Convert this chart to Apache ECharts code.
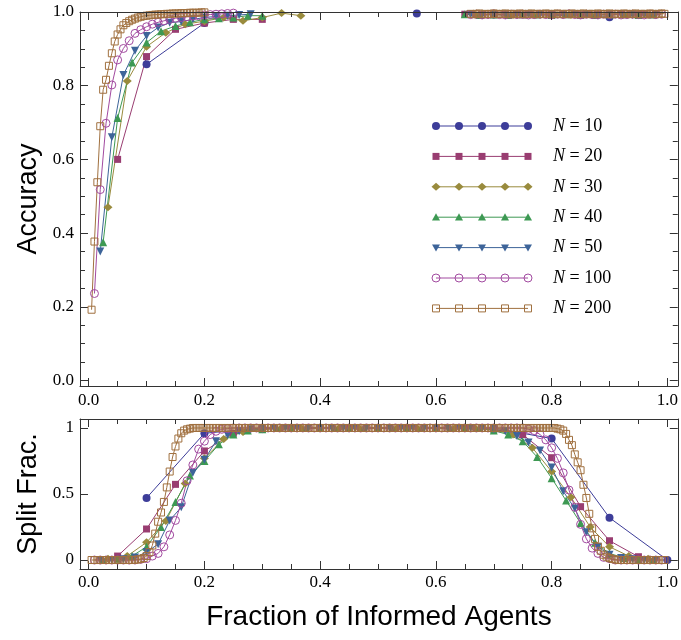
<!DOCTYPE html>
<html>
<head>
<meta charset="utf-8">
<script src="https://cdn.jsdelivr.net/npm/echarts@6/dist/echarts.min.js"></script>
<style>
  html, body { margin: 0; padding: 0; background: #fff; }
  #chart { width: 681px; height: 640px; }
</style>
</head>
<body>
<div id="chart"></div>
<script>
// group sizes N, one line per size
const sizes = [10, 20, 30, 40, 50, 100, 200];

// tick positions
const xMajor = [0, 0.2, 0.4, 0.6, 0.8, 1.0];
const xMinor = [0.05, 0.1, 0.15, 0.25, 0.3, 0.35, 0.45, 0.5, 0.55, 0.65, 0.7, 0.75, 0.85, 0.9, 0.95];
const accMajor = [0, 0.2, 0.4, 0.6, 0.8, 1.0];
const accMinor = [0.05, 0.1, 0.15, 0.25, 0.3, 0.35, 0.45, 0.5, 0.55, 0.65, 0.7, 0.75, 0.85, 0.9, 0.95];
const splitMajor = [0, 0.5, 1];

// accuracy (top panel). N=10 read with its own x; the others sit on x = k/N.
// "Left" starts at k=1, "Right" ends at k=N-1; points hidden on the top frame are left out.
const acc10X = [0.1, 0.2, 0.3, 0.567, 0.6, 0.7, 0.8, 0.9];
const acc10 = [0.858, 0.970, null, 0.996, null, 0.993, 0.992, 0.986];
const acc20Left = [0.600, 0.879, 0.953, 0.970, 0.980, 0.980];
const acc20Right = [0.994, 0.993, 0.992, 0.993, 0.991, 0.994, 0.993];
const acc30Left = [0.470, 0.813, 0.906, 0.944, 0.967, 0.975, 0.985, 0.976, 0.985, 0.997, 0.990];
const acc30Right = [0.993, 0.994, 0.992, 0.993, 0.994, 0.992, 0.993, 0.994, 0.993, 0.992];
const acc40Left = [0.375, 0.712, 0.863, 0.917, 0.948, 0.962, 0.972, 0.980, 0.983, 0.985, 0.990, 0.990];
const acc40Right = [0.994, 0.992, 0.993, 0.992, 0.994, 0.993, 0.992, 0.994, 0.993, 0.992, 0.993, 0.994, 0.992, 0.993];
const acc50Left = [0.350, 0.660, 0.829, 0.895, 0.935, 0.958, 0.971, 0.974, 0.980, 0.985, 0.988, 0.990, 0.992, 0.994];
const acc50Right = [0.993, 0.992, 0.994, 0.993, 0.992, 0.993, 0.994, 0.992, 0.993, 0.994, 0.993, 0.992, 0.993, 0.994, 0.992, 0.993, 0.994];
const acc100Left = [0.236, 0.518, 0.698, 0.802, 0.870, 0.901, 0.922, 0.942, 0.952, 0.960,
  0.967, 0.972, 0.976, 0.980, 0.983, 0.985, 0.987, 0.989, 0.990, 0.992,
  0.993, 0.994, 0.995, 0.996, 0.997];
const acc100Right = [0.993, 0.994, 0.992, 0.993, 0.995, 0.993, 0.992, 0.994, 0.993, 0.994,
  0.992, 0.993, 0.994, 0.993, 0.992, 0.994, 0.993, 0.995, 0.993, 0.992,
  0.994, 0.993, 0.992, 0.994, 0.993, 0.994, 0.992, 0.993, 0.994, 0.993,
  0.992, 0.994, 0.993, 0.994];
const acc200Left = [0.192, 0.377, 0.538, 0.690, 0.789, 0.816, 0.854, 0.888, 0.920, 0.939,
  0.953, 0.964, 0.970, 0.975, 0.979, 0.982, 0.985, 0.987, 0.989, 0.990,
  0.991, 0.992, 0.993, 0.993, 0.994, 0.994, 0.995, 0.995, 0.996, 0.996,
  0.996, 0.997, 0.997, 0.997, 0.998, 0.998, 0.998, 0.998, 0.999, 0.999];
const acc200Right = [0.995, 0.994, 0.995, 0.996, 0.994, 0.995, 0.994, 0.995, 0.996, 0.995,
  0.994, 0.995, 0.996, 0.994, 0.995, 0.995, 0.994, 0.996, 0.995, 0.994,
  0.995, 0.996, 0.994, 0.995, 0.995, 0.994, 0.996, 0.995, 0.994, 0.995,
  0.996, 0.994, 0.995, 0.995, 0.994, 0.996, 0.995, 0.994, 0.995, 0.996,
  0.994, 0.995, 0.995, 0.994, 0.996, 0.995, 0.994, 0.995, 0.996, 0.994,
  0.995, 0.995, 0.994, 0.996, 0.995, 0.994, 0.995, 0.996, 0.994, 0.995,
  0.995, 0.994, 0.996, 0.995, 0.994, 0.995, 0.996, 0.995];

// split fraction (bottom panel), x = k/N for k = 1, 2, ...
const split10 = [0.47, 0.96, 1, 1, 1, 1, 1, 0.92, 0.32, 0.0];
const split20 = [0.03, 0.235, 0.573, 0.826, 0.96, 0.99, 1, 1, 1, 1,
  1, 1, 1, 0.99, 0.95, 0.775, 0.404, 0.146, 0.025];
const split30 = [0.01, 0.03, 0.134, 0.295, 0.58, 0.77, 0.917, 0.97, 0.99, 1,
  1, 1, 1, 1, 1, 1, 1, 1, 1, 1,
  0.985, 0.95, 0.85, 0.67, 0.475, 0.25, 0.1, 0.03, 0.01];
const split40 = [0, 0.01, 0.03, 0.1, 0.25, 0.44, 0.64, 0.75, 0.876, 0.95,
  0.98, 0.99, 1, 1, 1, 1, 1, 1, 1, 1,
  1, 1, 1, 1, 1, 1, 1, 0.98, 0.95, 0.9,
  0.78, 0.62, 0.45, 0.28, 0.13, 0.05, 0.015, 0.005, 0];
const split50 = [0, 0, 0.005, 0.02, 0.06, 0.12, 0.30, 0.40, 0.66, 0.76,
  0.90, 0.947, 0.975, 0.99, 0.995, 1, 1, 1, 1, 1,
  1, 1, 1, 1, 1, 1, 1, 1, 1, 1,
  1, 1, 1, 1, 0.99, 0.975, 0.94, 0.89, 0.83, 0.70,
  0.52, 0.39, 0.21, 0.10, 0.04, 0.015, 0.005, 0, 0];
const split100 = [0, 0, 0, 0, 0, 0, 0, 0, 0.005, 0.01,
  0.03, 0.05, 0.1, 0.19, 0.3, 0.43, 0.6, 0.72, 0.84, 0.9,
  0.95, 0.975, 0.99, 0.995, 1, 1, 1, 1, 1, 1,
  1, 1, 1, 1, 1, 1, 1, 1, 1, 1,
  1, 1, 1, 1, 1, 1, 1, 1, 1, 1,
  1, 1, 1, 1, 1, 1, 1, 1, 1, 1,
  1, 1, 1, 1, 1, 1, 1, 1, 1, 1,
  1, 1, 1, 1, 1, 0.99, 0.98, 0.95, 0.91, 0.85,
  0.77, 0.66, 0.53, 0.4, 0.27, 0.16, 0.09, 0.05, 0.02, 0.01,
  0, 0, 0, 0, 0, 0, 0, 0, 0];
const split200 = [0, 0, 0, 0, 0, 0, 0, 0, 0, 0,
  0, 0, 0, 0, 0, 0.002, 0.004, 0.008, 0.015, 0.03,
  0.06, 0.11, 0.2, 0.29, 0.36, 0.44, 0.55, 0.67, 0.78, 0.86,
  0.92, 0.96, 0.98, 0.99, 0.995, 1, 1, 1, 1, 1,
  1, 1, 1, 1, 1, 1, 1, 1, 1, 1,
  1, 1, 1, 1, 1, 1, 1, 1, 1, 1,
  1, 1, 1, 1, 1, 1, 1, 1, 1, 1,
  1, 1, 1, 1, 1, 1, 1, 1, 1, 1,
  1, 1, 1, 1, 1, 1, 1, 1, 1, 1,
  1, 1, 1, 1, 1, 1, 1, 1, 1, 1,
  1, 1, 1, 1, 1, 1, 1, 1, 1, 1,
  1, 1, 1, 1, 1, 1, 1, 1, 1, 1,
  1, 1, 1, 1, 1, 1, 1, 1, 1, 1,
  1, 1, 1, 1, 1, 1, 1, 1, 1, 1,
  1, 1, 1, 1, 1, 1, 1, 1, 1, 1,
  1, 1, 1, 1, 1, 1, 1, 1, 1, 1,
  1, 0.995, 0.99, 0.98, 0.955, 0.91, 0.87, 0.8, 0.74, 0.68,
  0.57, 0.47, 0.35, 0.24, 0.16, 0.1, 0.07, 0.04, 0.025, 0.015,
  0.008, 0.004, 0, 0, 0, 0, 0, 0, 0, 0,
  0, 0, 0, 0, 0, 0, 0, 0, 0];

// marker look per series (Mathematica default palette)
const styles = [
  { color: '#3D3D99', symbol: 'circle', size: 8 },
  { color: '#993D71', symbol: 'rect', size: 7 },
  { color: '#998B3D', symbol: 'diamond', size: 9 },
  { color: '#3D9953', symbol: 'triangle', size: 8 },
  { color: '#3D6499', symbol: 'triangle', size: 8, rotate: 180 },
  { color: '#A24AA0', symbol: 'circle', size: 8, hollow: true },
  { color: '#A0703F', symbol: 'rect', size: 7, hollow: true }
];

const X_MIN = -0.015, X_MAX = 1.018;
const frameColor = '#333';
const tickFont = { fontFamily: 'Liberation Serif', fontSize: 17, color: '#000' };
const titleFont = { fontFamily: 'Liberation Sans', fontSize: 28, color: '#000' };
const sideTitleFont = { fontFamily: 'Liberation Sans', fontSize: 27, color: '#000' };

function onGrid(n, ys) {
  return ys.map((y, i) => [(i + 1) / n, y == null ? '-' : y]);
}
function accData(n, left, right) {
  const out = left.map((y, i) => [(i + 1) / n, y]);
  out.push([(left.length + 1) / n, '-']);
  const k0 = n - right.length;
  right.forEach((y, i) => out.push([(k0 + i) / n, y]));
  return out;
}

const accSeries = [
  acc10X.map((x, i) => [x, acc10[i] == null ? '-' : acc10[i]]),
  accData(20, acc20Left, acc20Right),
  accData(30, acc30Left, acc30Right),
  accData(40, acc40Left, acc40Right),
  accData(50, acc50Left, acc50Right),
  accData(100, acc100Left, acc100Right),
  accData(200, acc200Left, acc200Right)
];
const splitSeries = [split10, split20, split30, split40, split50, split100, split200]
  .map((ys, i) => onGrid(sizes[i], ys));

// four axes per side: major + minor ticks, on both sides of the frame
function frameAxes(kind, grid, min, max, major, minor, opts) {
  const sides = kind === 'x' ? ['bottom', 'top'] : ['left', 'right'];
  const axes = [];
  sides.forEach((side, s) => {
    const base = {
      type: 'value', gridIndex: grid, min: min, max: max, position: side,
      splitLine: { show: false }, z: s === 1 ? 5 : 0
    };
    axes.push(Object.assign({}, base, {
      axisLine: { show: true, onZero: false, lineStyle: { color: frameColor, width: 1 } },
      axisTick: { inside: true, length: 8, customValues: major, lineStyle: { color: frameColor } },
      axisLabel: s === 0
        ? Object.assign({ customValues: major, margin: opts.margin, formatter: opts.fmt }, tickFont)
        : { show: false },
      name: s === 0 ? (opts.name || '') : '',
      nameLocation: 'middle', nameGap: opts.nameGap || 30,
      nameRotate: kind === 'y' ? 90 : 0,
      nameTextStyle: kind === 'y' ? sideTitleFont : titleFont
    }));
    axes.push(Object.assign({}, base, {
      axisLine: { show: false, onZero: false },
      axisTick: { show: minor.length > 0, inside: true, length: 5, customValues: minor.length ? minor : [min], lineStyle: { color: frameColor } },
      axisLabel: { show: false }
    }));
  });
  return axes;
}

const fmt1 = v => v.toFixed(1);
const fmtSplit = v => (v === 0.5 ? '0.5' : String(Math.round(v)));

const xAxes = [].concat(
  frameAxes('x', 0, X_MIN, X_MAX, xMajor, xMinor, { margin: 6, fmt: fmt1 }),
  frameAxes('x', 1, X_MIN, X_MAX, xMajor, xMinor, { margin: 5, fmt: fmt1, name: 'Fraction of Informed Agents', nameGap: 34 })
);
const yAxes = [].concat(
  frameAxes('y', 0, -0.015, 1.0, accMajor, accMinor, { margin: 6, fmt: fmt1, name: 'Accuracy', nameGap: 37 }),
  frameAxes('y', 1, -0.068, 1.068, splitMajor, [], { margin: 6, fmt: fmtSplit, name: 'Split Frac.', nameGap: 37 })
);

function lineSeries(i, panel, data) {
  const st = styles[i];
  return {
    name: 'N = ' + sizes[i],
    type: 'line',
    xAxisIndex: panel * 4,
    yAxisIndex: panel * 4,
    data: data,
    symbol: st.symbol,
    symbolSize: st.symbol === 'diamond' ? [st.size, st.size - 1] : st.size,
    symbolRotate: st.rotate || 0,
    showSymbol: true,
    clip: true,
    animation: false,
    itemStyle: st.hollow
      ? { color: 'rgba(0,0,0,0)', borderColor: st.color, borderWidth: 1 }
      : { color: st.color, borderWidth: 0 },
    lineStyle: { color: st.color, width: 1 },
    emphasis: { disabled: true }
  };
}

const series = [];
accSeries.forEach((d, i) => series.push(lineSeries(i, 0, d)));
splitSeries.forEach((d, i) => series.push(lineSeries(i, 1, d)));

// legend drawn as graphic: a line with five markers and the label
const legendMarkX = [436, 459, 482, 505, 528];
const legendTop = 126, legendStep = 30.4, legendTextX = 553;

function legendMarker(st, cx, cy) {
  const style = st.hollow
    ? { fill: 'none', stroke: st.color, lineWidth: 1 }
    : { fill: st.color };
  const r = st.size / 2;
  if (st.symbol === 'circle') return { type: 'circle', shape: { cx: cx, cy: cy, r: r }, style: style };
  if (st.symbol === 'rect') return { type: 'rect', shape: { x: cx - r, y: cy - r, width: 2 * r, height: 2 * r }, style: style };
  if (st.symbol === 'diamond') return { type: 'polygon', shape: { points: [[cx, cy - r + 0.5], [cx + r, cy], [cx, cy + r - 0.5], [cx - r, cy]] }, style: style };
  if (st.rotate) return { type: 'polygon', shape: { points: [[cx - r, cy - r * 0.8], [cx + r, cy - r * 0.8], [cx, cy + r]] }, style: style };
  return { type: 'polygon', shape: { points: [[cx - r, cy + r * 0.8], [cx + r, cy + r * 0.8], [cx, cy - r]] }, style: style };
}

const graphics = [];
styles.forEach((st, i) => {
  const cy = legendTop + i * legendStep;
  graphics.push({
    type: 'line', z: 10,
    shape: { x1: legendMarkX[0], y1: cy, x2: legendMarkX[legendMarkX.length - 1], y2: cy },
    style: { stroke: st.color, lineWidth: 1 }
  });
  legendMarkX.forEach(x => graphics.push(Object.assign({ z: 11 }, legendMarker(st, x, cy))));
  graphics.push({
    type: 'text', z: 11, x: legendTextX, y: cy,
    style: {
      text: '{i|N} = ' + sizes[i],
      fontFamily: 'Liberation Serif', fontSize: 18, fill: '#000',
      verticalAlign: 'middle',
      rich: { i: { fontStyle: 'italic', fontFamily: 'Liberation Serif', fontSize: 18 } }
    }
  });
});

const chart = echarts.init(document.getElementById('chart'), null, { renderer: 'canvas' });
chart.setOption({
  animation: false,
  backgroundColor: '#fff',
  grid: [
    { left: 80, right: 2, top: 12, height: 374 },
    { left: 80, right: 2, top: 419, height: 150 }
  ],
  xAxis: xAxes,
  yAxis: yAxes,
  series: series,
  graphic: { elements: graphics }
});
</script>
</body>
</html>
